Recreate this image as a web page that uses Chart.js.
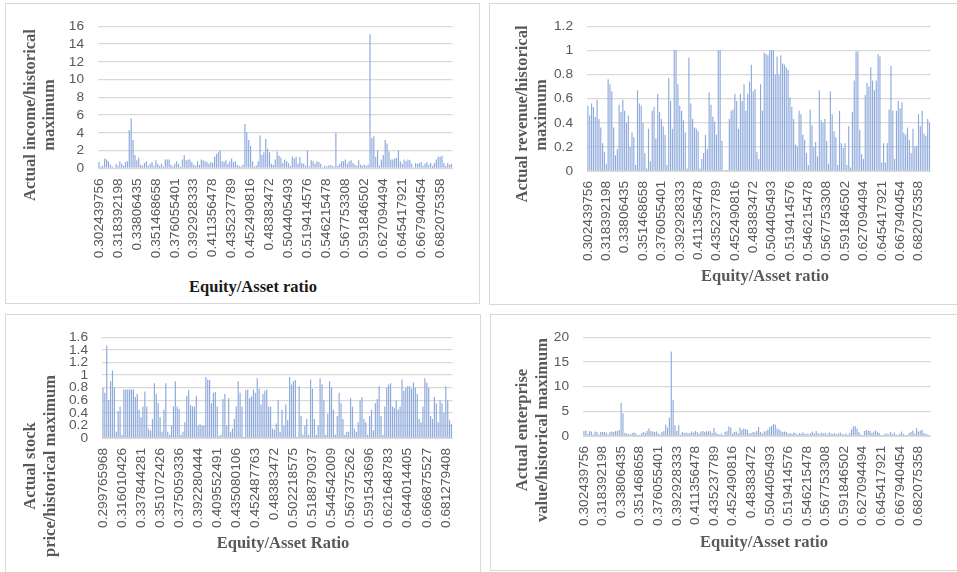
<!DOCTYPE html>
<html>
<head>
<meta charset="utf-8">
<script src="https://cdn.jsdelivr.net/npm/chart.js@4.4.1/dist/chart.umd.min.js"></script>
<style>
  html, body { margin: 0; padding: 0; background: #fff; }
  body { width: 957px; height: 572px; position: relative; overflow: hidden; }
  .panel { position: absolute; border: 1px solid #d9d9d9; background: #fff; box-sizing: border-box; }
  canvas { position: absolute; }
  .t { position: absolute; white-space: nowrap; font: bold 16.5px "Liberation Serif", "Times New Roman", serif; color: #595959; transform: translate(-50%, -50%); line-height: 1; }
  .r { transform: translate(-50%, -50%) rotate(-90deg); }
</style>
</head>
<body>
<div class="panel" style="left:5px;top:3px;width:475px;height:301px;"></div>
<div class="panel" style="left:489px;top:3px;width:472px;height:302px;"></div>
<div class="panel" style="left:5px;top:314px;width:476px;height:262px;"></div>
<div class="panel" style="left:490px;top:314px;width:471px;height:257px;"></div>

<canvas id="c1" width="472" height="268" style="left:6px;top:4px;"></canvas>
<canvas id="c2" width="466" height="262" style="left:490px;top:4px;"></canvas>
<canvas id="c3" width="472" height="220" style="left:6px;top:315px;"></canvas>
<canvas id="c4" width="465" height="220" style="left:491px;top:315px;"></canvas>

<div class="t r" style="left:30px;top:115px;">Actual income/historical</div>
<div class="t r" style="left:49px;top:115px;">maximum</div>
<div class="t" style="left:253px;top:287px;color:#1a1a1a;">Equity/Asset ratio</div>

<div class="t r" style="left:522px;top:114px;">Actual revenue/historical</div>
<div class="t r" style="left:541px;top:115px;">maximum</div>
<div class="t" style="left:765px;top:276px;">Equity/Asset ratio</div>

<div class="t r" style="left:30px;top:466px;">Actual stock</div>
<div class="t r" style="left:50px;top:466px;">price/historical maximum</div>
<div class="t" style="left:283px;top:543px;">Equity/Asset Ratio</div>

<div class="t r" style="left:522px;top:430px;">Actual enterprise</div>
<div class="t r" style="left:542px;top:430px;">value/historical maximum</div>
<div class="t" style="left:764px;top:542px;">Equity/Asset ratio</div>

<script>
// Tick labels shown on the category axes (every 10th category)
const ratioTicks = ['0.302439756','0.318392198','0.33806435','0.351468658','0.376055401','0.392928333','0.411356478','0.435237789','0.452490816','0.48383472','0.504405493','0.519414576','0.546215478','0.567753308','0.591846502','0.627094494','0.645417921','0.667940454','0.682075358'];
const stockRatioTicks = ['0.299765968','0.316010426','0.337844281','0.351072426','0.375059336','0.392280444','0.409552491','0.435080106','0.452487763','0.48383472','0.502218575','0.518879037','0.544542009','0.567375262','0.591543696','0.621648783','0.644014405','0.666875527','0.681279408'];

// Actual income / historical maximum
const incomeValues = [
0.7,0.2,0.3,1.1,1.0,0.8,0.4,0.2,0.1,0.5,
0.3,0.8,0.5,0.3,0.7,0.8,4.3,5.6,3.2,1.5,
0.9,1.2,0.4,0.3,0.6,0.8,0.3,0.5,0.7,0.3,
0.9,0.5,0.3,0.5,0.2,1.0,1.0,1.0,0.4,0.2,
0.5,0.8,0.5,0.2,1.0,1.5,0.9,1.0,1.0,0.7,
0.4,0.3,0.8,0.4,1.0,0.9,0.8,0.7,0.5,0.7,
0.6,1.3,1.6,1.8,2.0,0.8,0.7,0.9,0.5,0.8,
1.1,0.7,0.8,0.4,0.3,0.2,0.4,5.0,4.1,3.2,
2.5,0.8,0.2,0.3,0.8,3.7,1.5,1.8,3.3,2.2,
1.8,0.5,0.4,1.0,1.9,1.4,1.2,0.6,1.0,0.8,
0.6,0.3,1.3,1.1,1.3,0.5,1.3,0.6,0.5,0.3,
2.0,0.2,0.9,0.8,0.5,0.8,0.7,0.5,0.1,0.3,
0.2,0.3,0.4,0.3,0.2,4.0,0.3,0.5,0.8,0.8,
1.0,0.5,0.8,0.9,0.6,0.4,0.3,0.9,0.4,0.3,
0.4,0.3,0.4,15.1,3.4,3.6,1.3,2.0,0.3,1.0,
1.5,3.2,2.8,1.9,1.0,1.0,1.1,1.2,2.0,0.8,
0.5,1.0,0.8,1.0,0.9,0.5,0.1,0.6,0.5,0.6,
0.7,0.3,0.5,0.7,0.4,0.6,0.3,0.6,1.0,1.3,
1.3,1.4,0.6,0.3,0.6,0.4,0.5];

// Actual revenue / historical maximum
const revenueValues = [
0.54,0.46,0.56,0.53,0.45,0.59,0.43,0.36,0.23,0.16,
0.06,0.76,0.72,0.66,0.36,0.13,0.18,0.55,0.49,0.59,
0.5,0.4,0.46,0.2,0.32,0.28,0.05,0.67,0.56,0.54,
0.4,0.15,0.02,0.35,0.08,0.5,0.53,0.27,0.64,0.49,
0.43,0.37,0.3,0.05,0.77,0.58,0.35,1,1,0.72,
0.54,0.5,0.42,0.32,0.02,0.94,0.56,0.43,0.36,0.35,
0.33,0.02,0.1,0.15,0.3,0.18,0.65,0.55,0.45,0.41,
0.3,1,1,0.25,0,0.005,0.005,0.43,0.5,0.51,
0.64,0.58,0.35,0.64,0.58,0.72,0.5,0.64,0.74,0.88,
0.66,0.68,0.16,0.1,0.72,0.5,0.98,0.97,0.96,1,
1,1,0.8,0.95,0.8,0.96,0.89,0.88,0.86,0.84,
0.61,0.53,0.43,0.22,0.2,0.5,0.47,0.3,0.26,0.15,
0.05,0.51,0.38,0.2,0.24,0.12,0.67,0.42,0.4,0.43,
0.25,0.06,0.66,0.47,0.33,0.28,0.05,0.5,0.23,0.19,
0.23,0.05,0.37,0.03,0.49,0.75,0.99,0.99,0.34,0.14,
0.1,0.63,0.73,0.7,0.86,0.75,0.67,0.75,0.97,0.95,
0.07,0.23,0.07,0.23,0.51,0.87,0.5,0.1,0.5,0.58,
0.52,0.57,0.32,0.3,0.36,0.26,0.15,0.35,0.2,0.21,
0.47,0.37,0.5,0.31,0.29,0.43,0.4];

// Actual stock price / historical maximum
const stockValues = [
0.8,0.72,1.47,0.6,0.9,1.07,0.8,0.1,0.43,0.5,
0.05,0.77,0.77,0.77,0.77,0.77,0.77,0.65,0.7,0.45,
0.33,0.5,0.74,0.5,0.15,0.12,0.3,0.87,0.7,0.55,
0.33,0.1,0.45,0.87,0.1,0.05,0.2,0.5,0.9,0.5,
0.46,0.05,0.1,0.25,0.67,0.76,0.52,0.5,0.5,0.67,
0.2,0.22,0.2,0.2,0.97,0.93,0.92,0.55,0.72,0.73,
0.5,0.03,0.05,0.62,0.7,0.2,0.63,0.1,0.15,0.3,
0.5,0.9,0.72,0.5,0.02,0.76,0.77,0.63,0.66,0.77,
0.72,0.95,0.78,0.53,0.7,0.75,0.77,0.5,0.5,0.15,
0.13,0.23,0.6,0.1,0.45,0.2,0.53,0.28,0.97,0.85,
0.9,0.92,0.02,0.82,0.35,0.05,0.2,0.3,0.05,0.93,
0.78,0.3,0.05,0.2,0.95,0.85,0.6,0.05,0.38,0.9,
0.8,0.45,0.05,0.35,0.72,0.55,0.3,0.05,0.1,0.1,
0.63,0.5,0.15,0.1,0.25,0.6,0.65,0.3,0.25,0.05,
0.35,0.45,0.12,0.55,0.62,0.82,0.35,0.05,0.5,0.8,
0.85,0.87,0.5,0.48,0.6,0.45,0.5,0.93,0.75,0.8,
0.82,0.82,0.78,0.88,0.8,0.7,0.3,0.25,0.5,0.95,
0.88,0.8,0.35,0.3,0.65,0.55,0.25,0.6,0.55,0.4,
0.82,0.6,0.28,0.22];

// Actual enterprise value / historical maximum
const enterpriseValues = [
1.0,1.1,0.4,1.0,0.9,0.3,0.9,0.8,0.3,0.8,
0.8,0.8,0.7,0.3,0.8,0.9,0.8,1.0,1.0,1.2,
6.7,4.6,0.6,0.5,0.4,0.3,0.6,0.7,0.5,0.2,
0.1,0.5,0.8,0.6,1.0,1.5,1.0,0.9,0.8,0.9,
0.5,0.3,0.8,1.0,2.3,1.7,3.7,17.1,7.3,2.2,
1.0,2.2,0.3,0.8,0.6,0.7,0.5,0.6,0.9,0.7,
1.0,0.8,0.5,0.9,1.0,0.8,1.0,0.9,1.0,0.6,
1.6,0.7,0.4,0.3,0.5,0.2,0.8,1.0,1.9,1.7,
0.5,0.8,0.9,0.5,1.7,1.2,1.5,1.4,1.2,0.5,
0.6,0.8,0.7,1.0,1.8,0.8,0.5,0.9,1.0,1.3,
1.8,2.0,2.5,2.3,1.5,1.3,1.0,0.8,0.9,0.8,
0.5,0.6,0.4,0.7,0.5,0.3,0.6,0.5,0.7,0.4,
0.5,0.3,0.6,0.9,0.5,1.0,0.6,0.4,0.7,0.5,
0.6,0.3,0.7,0.5,0.4,0.6,0.3,0.5,0.7,0.4,
0.3,0.5,0.2,0.6,1.3,1.9,2.0,1.5,0.8,0.3,
0.2,1.0,1.2,1.1,1.0,0.6,0.9,1.1,0.8,0.6,
0.2,0.1,0.4,0.5,0.3,0.8,0.4,0.7,0.3,0.2,
0.5,0.9,0.4,0.2,0.1,0.6,0.8,1.1,0.5,1.6,
0.9,1.1,1.2,0.6,0.4,0.3,0.2];

const LABEL_EVERY = 10;
const GRAY = '#595959';
const GRID = '#d9d9d9';
const BAR = '#8eaadc';
const TICK_FONT = { family: "'Liberation Sans', Arial, sans-serif", size: 13.7 };

function makeChart(id, canvasBox, plot, values, tickLabels, yMax, yStep) {
  const labels = values.map((_, i) => (i % LABEL_EVERY === 0 && tickLabels[i / LABEL_EVERY] !== undefined) ? tickLabels[i / LABEL_EVERY] : '');
  const yW = plot.l - canvasBox.l;
  const xH = canvasBox.t + canvasBox.h - plot.b;
  new Chart(document.getElementById(id), {
    type: 'bar',
    data: { labels, datasets: [{ data: values, backgroundColor: BAR, borderWidth: 0, barPercentage: 0.62, categoryPercentage: 1 }] },
    options: {
      responsive: false, animation: false, devicePixelRatio: 1,
      layout: { padding: { left: 0, top: plot.t - canvasBox.t, right: canvasBox.l + canvasBox.w - plot.r, bottom: 0 } },
      plugins: { legend: { display: false }, tooltip: { enabled: false } },
      scales: {
        x: {
          grid: { display: false, drawTicks: false },
          border: { display: true, color: GRID, width: 1 },
          ticks: { autoSkip: false, maxRotation: 90, minRotation: 90, padding: 10, color: GRAY, font: TICK_FONT },
          afterFit(s) { s.height = xH; }
        },
        y: {
          min: 0, max: yMax,
          grid: { color: GRID, lineWidth: 1.3, drawTicks: false },
          border: { display: false },
          ticks: { autoSkip: false, stepSize: yStep, padding: 14, color: GRAY, font: TICK_FONT,
                   callback: v => String(Math.round(v * 10) / 10) },
          afterFit(s) { s.width = yW; }
        }
      }
    }
  });
}

makeChart('c1', { l: 6, t: 4, w: 472, h: 268 }, { l: 98, r: 462, t: 20.7, b: 168.3 }, incomeValues, ratioTicks, 16, 2);
makeChart('c2', { l: 490, t: 4, w: 466, h: 262 }, { l: 587, r: 944, t: 21, b: 171 }, revenueValues, ratioTicks, 1.2, 0.2);
makeChart('c3', { l: 6, t: 315, w: 472, h: 220 }, { l: 102, r: 464, t: 332, b: 438 }, stockValues, stockRatioTicks, 1.6, 0.2);
makeChart('c4', { l: 491, t: 315, w: 465, h: 220 }, { l: 583, r: 945, t: 332, b: 436 }, enterpriseValues, ratioTicks, 20, 5);
</script>
</body>
</html>
